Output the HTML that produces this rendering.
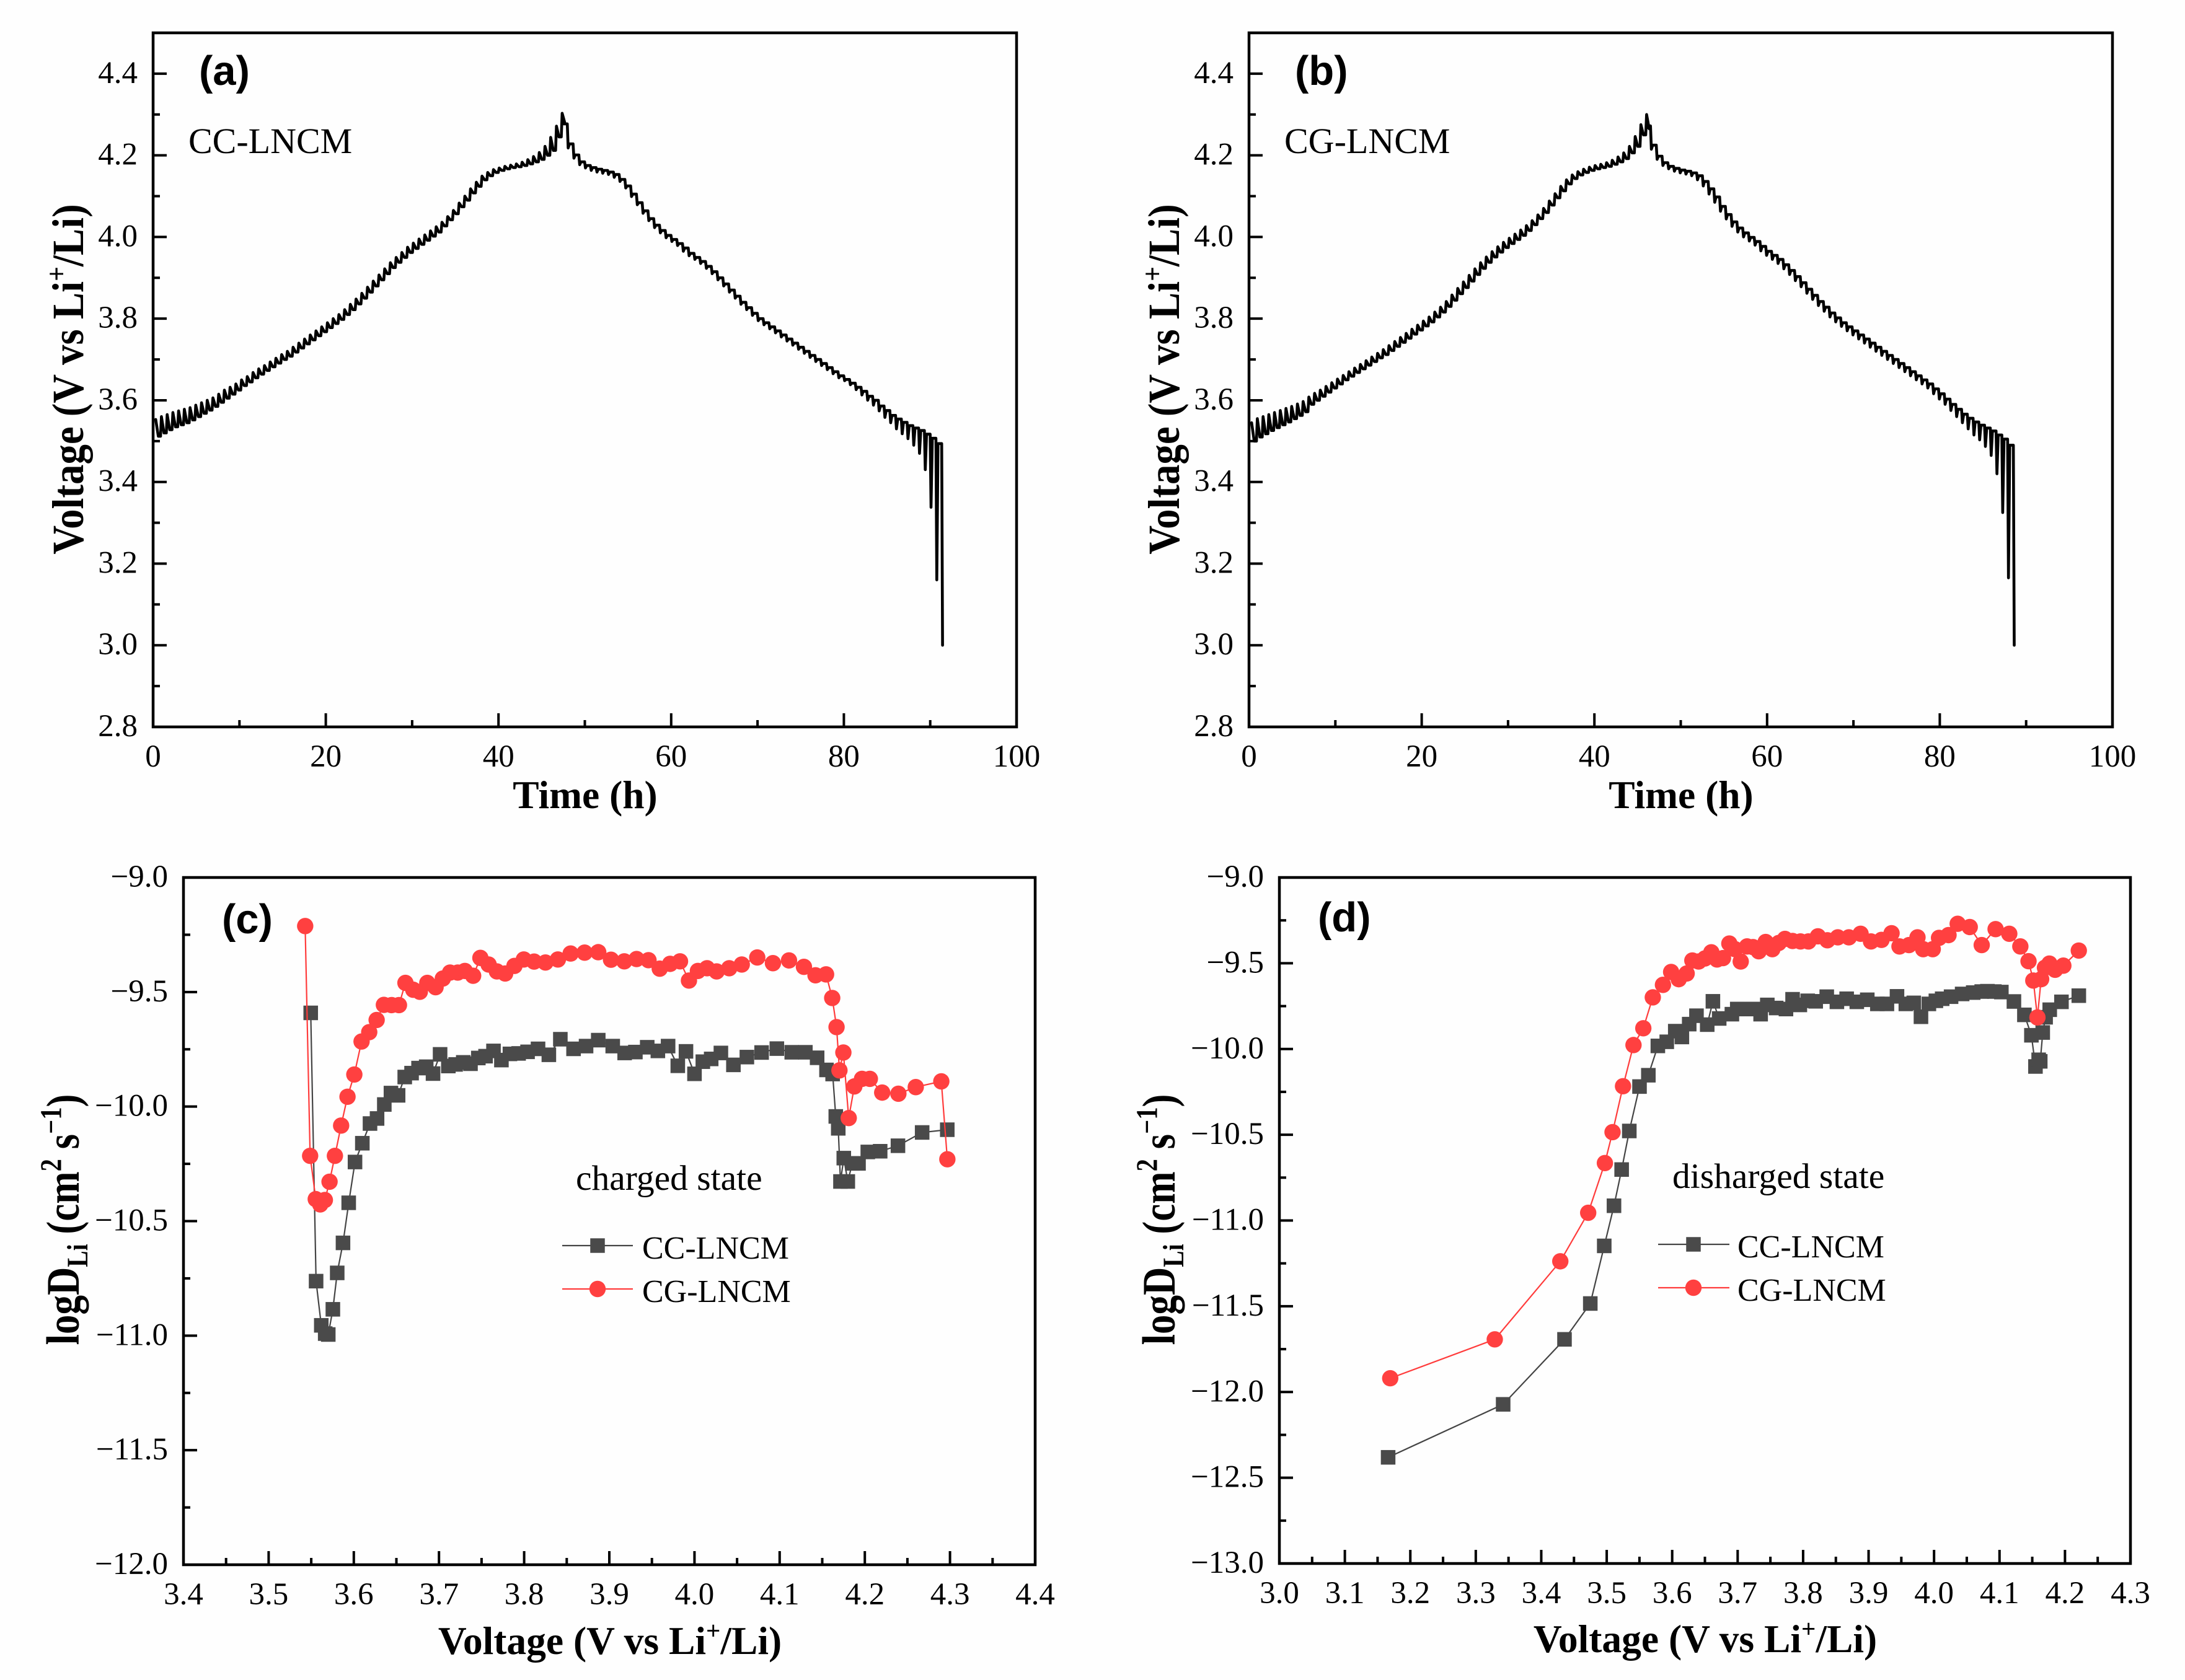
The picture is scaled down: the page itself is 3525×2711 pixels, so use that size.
<!DOCTYPE html>
<html lang="en">
<head>
<meta charset="utf-8">
<title>Voltage and diffusion coefficient panels</title>
<style>
html,body{margin:0;padding:0;background:#fefefe;}
svg{display:block;}
text{font-family:"Liberation Serif",serif;fill:#000;}
.tick{font-size:51px;}
.title{font-size:63.5px;font-weight:bold;}
.tag{font-family:"Liberation Sans",sans-serif;font-size:67px;font-weight:bold;}
.note{font-size:58px;}
.legend{font-size:52px;}
</style>
</head>
<body>
<svg xmlns="http://www.w3.org/2000/svg" width="3525" height="2711" viewBox="0 0 3525 2711">
  <rect x="0" y="0" width="3525" height="2711" fill="#fefefe"/>

  <g id="panel-a">
    <text class="tag" x="321" y="137">(a)</text>
    <text class="note" x="304" y="247">CC-LNCM</text>
    <text class="title" x="944" y="1304" text-anchor="middle">Time (h)</text>
    <text class="title" transform="translate(134 612) rotate(-90) scale(1.02,1.14)" text-anchor="middle">Voltage (V vs Li<tspan font-size="41" dy="-24">+</tspan><tspan dy="24">/Li)</tspan></text>
  </g>

  <g id="panel-b">
    <text class="tag" x="2089" y="137">(b)</text>
    <text class="note" x="2072" y="247">CG-LNCM</text>
    <text class="title" x="2712" y="1304" text-anchor="middle">Time (h)</text>
    <text class="title" transform="translate(1902 612) rotate(-90) scale(1.02,1.14)" text-anchor="middle">Voltage (V vs Li<tspan font-size="41" dy="-24">+</tspan><tspan dy="24">/Li)</tspan></text>
  </g>

  <g id="panel-c">
    <text class="tag" x="358" y="1506">(c)</text>
    <text class="note" x="929" y="1920" style="font-size:57.5px">charged state</text>
    <text class="title" x="984" y="2669" text-anchor="middle">Voltage (V vs Li<tspan font-size="41" dy="-24">+</tspan><tspan dy="24">/Li)</tspan></text>
    <text class="title" transform="translate(127 1968) rotate(-90) scale(0.99,1.18)" text-anchor="middle">logD<tspan font-size="40" dy="12">Li</tspan><tspan dy="-12"> (cm</tspan><tspan font-size="41" dy="-24">2</tspan><tspan dy="24"> s</tspan><tspan font-size="41" dy="-24">−1</tspan><tspan dy="24">)</tspan></text>
  </g>

  <g id="panel-d">
    <text class="tag" x="2126" y="1503">(d)</text>
    <text class="note" x="2698" y="1917" style="font-size:57.5px">disharged state</text>
    <text class="title" x="2751" y="2666" text-anchor="middle">Voltage (V vs Li<tspan font-size="41" dy="-24">+</tspan><tspan dy="24">/Li)</tspan></text>
    <text class="title" transform="translate(1895 1968) rotate(-90) scale(0.99,1.18)" text-anchor="middle">logD<tspan font-size="40" dy="12">Li</tspan><tspan dy="-12"> (cm</tspan><tspan font-size="41" dy="-24">2</tspan><tspan dy="24"> s</tspan><tspan font-size="41" dy="-24">−1</tspan><tspan dy="24">)</tspan></text>
  </g>
</svg>

<script>
// ---------- Panel (a) / (b) time axis ----------
const timeMajorTicks = [0, 20, 40, 60, 80, 100];
const timeMinorTicks = [10, 30, 50, 70, 90];
const timeTickLabels = ['0', '20', '40', '60', '80', '100'];
const voltageMajorTicks = [2.8, 3.0, 3.2, 3.4, 3.6, 3.8, 4.0, 4.2, 4.4];
const voltageMinorTicks = [2.9, 3.1, 3.3, 3.5, 3.7, 3.9, 4.1, 4.3];
const voltageTickLabels = ['2.8', '3.0', '3.2', '3.4', '3.6', '3.8', '4.0', '4.2', '4.4'];

// ---------- Panel (a): CC-LNCM titration curve, per-pulse voltages ----------
const chargeStartA = 0.3;
const chargeStepA = 0.663;
const dischargeStartA = 48.07;
const dischargeStepA = 0.667;
const chargePeakA = [3.553,3.56,3.565,3.57,3.574,3.578,3.582,3.588,3.594,3.60,3.606,3.615,3.625,3.632,3.64,3.65,3.658,3.668,3.677,3.685,3.694,3.703,3.712,3.72,3.73,3.74,3.75,3.76,3.77,3.78,3.79,3.80,3.81,3.822,3.835,3.848,3.862,3.877,3.892,3.907,3.922,3.937,3.95,3.962,3.975,3.985,3.995,4.005,4.015,4.025,4.036,4.05,4.065,4.083,4.10,4.118,4.134,4.149,4.158,4.165,4.169,4.173,4.176,4.179,4.183,4.1895,4.197,4.207,4.222,4.244,4.2715,4.303];
const chargeRestA = [3.512,3.52,3.528,3.535,3.54,3.545,3.552,3.56,3.568,3.576,3.585,3.595,3.605,3.615,3.625,3.636,3.645,3.655,3.664,3.673,3.682,3.691,3.70,3.708,3.718,3.728,3.738,3.748,3.758,3.768,3.778,3.788,3.798,3.81,3.822,3.836,3.85,3.865,3.88,3.895,3.91,3.925,3.938,3.95,3.962,3.972,3.982,3.992,4.002,4.012,4.027,4.042,4.057,4.074,4.09,4.108,4.124,4.14,4.15,4.158,4.163,4.167,4.17,4.172,4.175,4.179,4.184,4.19,4.20,4.212,4.245,4.28];
const dischargeTopA = [4.277,4.228,4.201,4.184,4.175,4.17,4.166,4.163,4.159,4.153,4.141,4.125,4.105,4.084,4.064,4.045,4.029,4.016,4.004,3.994,3.984,3.973,3.96,3.95,3.94,3.928,3.915,3.90,3.885,3.87,3.855,3.84,3.827,3.813,3.80,3.79,3.78,3.77,3.76,3.75,3.74,3.73,3.72,3.71,3.70,3.69,3.68,3.67,3.66,3.651,3.642,3.632,3.622,3.61,3.60,3.586,3.575,3.563,3.554,3.546,3.538,3.532,3.526,3.517,3.507,3.494];
const dischargeDipA = [4.218,4.193,4.177,4.169,4.163,4.159,4.156,4.153,4.146,4.136,4.12,4.099,4.079,4.058,4.04,4.023,4.01,3.998,3.989,3.979,3.965,3.954,3.945,3.935,3.923,3.91,3.895,3.88,3.865,3.85,3.835,3.822,3.808,3.795,3.785,3.775,3.765,3.755,3.745,3.735,3.725,3.715,3.705,3.695,3.685,3.675,3.665,3.655,3.648,3.638,3.626,3.613,3.60,3.588,3.574,3.558,3.545,3.53,3.518,3.506,3.49,3.47,3.43,3.338,3.16,3.0];

// ---------- Panel (b): CG-LNCM titration curve, per-pulse voltages ----------
const chargeStartB = 0.3;
const chargeStepB = 0.663;
const dischargeStartB = 46.6;
const dischargeStepB = 0.667;
const chargePeakB = [3.545,3.555,3.56,3.565,3.57,3.575,3.58,3.585,3.591,3.597,3.608,3.617,3.625,3.634,3.643,3.652,3.661,3.67,3.679,3.688,3.697,3.706,3.715,3.724,3.734,3.744,3.754,3.764,3.774,3.784,3.794,3.804,3.816,3.828,3.842,3.858,3.874,3.89,3.906,3.922,3.937,3.951,3.964,3.976,3.987,3.997,4.007,4.017,4.028,4.04,4.054,4.07,4.088,4.106,4.124,4.14,4.152,4.16,4.166,4.171,4.175,4.178,4.182,4.188,4.196,4.206,4.222,4.246,4.275,4.30];
const chargeRestB = [3.50,3.51,3.518,3.526,3.533,3.54,3.547,3.555,3.563,3.572,3.59,3.6,3.61,3.62,3.63,3.64,3.65,3.659,3.668,3.677,3.686,3.695,3.704,3.712,3.722,3.732,3.742,3.752,3.762,3.772,3.782,3.792,3.804,3.816,3.83,3.845,3.861,3.876,3.892,3.908,3.923,3.938,3.951,3.963,3.974,3.984,3.994,4.004,4.016,4.03,4.045,4.06,4.078,4.096,4.113,4.13,4.143,4.152,4.158,4.163,4.167,4.17,4.173,4.178,4.184,4.192,4.206,4.222,4.25,4.265];
const dischargeTopB = [4.272,4.225,4.198,4.182,4.173,4.168,4.164,4.161,4.157,4.15,4.136,4.118,4.098,4.075,4.055,4.037,4.022,4.01,3.999,3.989,3.977,3.965,3.955,3.945,3.932,3.918,3.903,3.888,3.872,3.857,3.842,3.828,3.814,3.802,3.79,3.78,3.77,3.76,3.75,3.74,3.73,3.72,3.71,3.70,3.69,3.68,3.67,3.66,3.65,3.64,3.628,3.616,3.603,3.59,3.578,3.566,3.556,3.547,3.539,3.532,3.525,3.515,3.505,3.49];
const dischargeDipB = [4.215,4.19,4.175,4.167,4.161,4.157,4.154,4.15,4.14,4.125,4.105,4.085,4.063,4.044,4.026,4.012,4.0,3.99,3.98,3.966,3.955,3.945,3.935,3.922,3.908,3.893,3.878,3.862,3.847,3.832,3.818,3.804,3.792,3.781,3.77,3.76,3.75,3.74,3.73,3.72,3.71,3.70,3.69,3.68,3.67,3.66,3.65,3.64,3.63,3.616,3.603,3.59,3.575,3.56,3.545,3.53,3.515,3.503,3.487,3.465,3.42,3.325,3.165,3.0];

// ---------- Panel (c): charged state ----------
const xMajorTicksC = [3.4, 3.5, 3.6, 3.7, 3.8, 3.9, 4.0, 4.1, 4.2, 4.3, 4.4];
const xMinorTicksC = [3.45, 3.55, 3.65, 3.75, 3.85, 3.95, 4.05, 4.15, 4.25, 4.35];
const xTickLabelsC = ['3.4', '3.5', '3.6', '3.7', '3.8', '3.9', '4.0', '4.1', '4.2', '4.3', '4.4'];
const yMajorTicksC = [-12, -11.5, -11, -10.5, -10, -9.5, -9];
const yMinorTicksC = [-11.75, -11.25, -10.75, -10.25, -9.75, -9.25];
const yTickLabelsC = ['−12.0', '−11.5', '−11.0', '−10.5', '−10.0', '−9.5', '−9.0'];

const voltageCcC = [3.5494,3.5557,3.5618,3.5664,3.570,3.5754,3.5805,3.5873,3.594,3.6014,3.610,3.619,3.6273,3.6358,3.6436,3.652,3.6598,3.6678,3.676,3.685,3.693,3.7013,3.711,3.7195,3.7285,3.737,3.7462,3.7547,3.764,3.7733,3.7833,3.7935,3.804,3.8163,3.829,3.8425,3.858,3.8727,3.887,3.904,3.918,3.9306,3.9445,3.957,3.969,3.9804,3.990,4.00,4.0098,4.0196,4.031,4.0457,4.0615,4.0788,4.0967,4.1142,4.1302,4.144,4.155,4.1622,4.1659,4.1688,4.1714,4.1753,4.18,4.1853,4.1926,4.2035,4.218,4.2389,4.2673,4.2968];
const logDCcC = [-9.591,-10.762,-10.955,-10.991,-10.995,-10.885,-10.726,-10.595,-10.42,-10.242,-10.16,-10.074,-10.052,-9.991,-9.941,-9.951,-9.871,-9.854,-9.832,-9.826,-9.856,-9.772,-9.823,-9.816,-9.807,-9.813,-9.788,-9.78,-9.757,-9.797,-9.77,-9.768,-9.761,-9.748,-9.774,-9.706,-9.748,-9.736,-9.71,-9.736,-9.766,-9.762,-9.741,-9.757,-9.736,-9.822,-9.759,-9.857,-9.804,-9.792,-9.766,-9.818,-9.784,-9.764,-9.747,-9.763,-9.763,-9.787,-9.84,-9.858,-10.043,-10.095,-10.327,-10.225,-10.327,-10.248,-10.248,-10.198,-10.195,-10.171,-10.113,-10.101];
const voltageCgC = [3.5429,3.5487,3.5553,3.5606,3.566,3.5715,3.5778,3.5851,3.5926,3.6006,3.6091,3.6181,3.6268,3.6353,3.6443,3.653,3.6606,3.6698,3.6775,3.6863,3.696,3.7045,3.713,3.722,3.7304,3.7401,3.7486,3.7583,3.768,3.7777,3.7886,3.7996,3.8117,3.825,3.8396,3.8546,3.871,3.887,3.902,3.9176,3.932,3.946,3.9592,3.9714,3.983,3.9935,4.004,4.0147,4.026,4.0408,4.0555,4.0737,4.0921,4.111,4.1285,4.1421,4.1545,4.1617,4.1668,4.1702,4.1748,4.1811,4.1877,4.1967,4.2059,4.2204,4.2394,4.2598,4.2898,4.2969];
const logDCgC = [-9.212,-10.215,-10.404,-10.427,-10.408,-10.328,-10.215,-10.083,-9.957,-9.86,-9.716,-9.675,-9.622,-9.556,-9.557,-9.557,-9.46,-9.49,-9.499,-9.46,-9.479,-9.441,-9.415,-9.415,-9.408,-9.429,-9.351,-9.38,-9.41,-9.419,-9.386,-9.358,-9.367,-9.371,-9.358,-9.332,-9.328,-9.326,-9.359,-9.366,-9.356,-9.361,-9.398,-9.377,-9.366,-9.45,-9.408,-9.396,-9.41,-9.396,-9.38,-9.349,-9.374,-9.362,-9.39,-9.427,-9.423,-9.526,-9.653,-9.842,-9.764,-10.05,-9.912,-9.879,-9.879,-9.939,-9.944,-9.915,-9.89,-10.23];

// ---------- Panel (d): discharged state ----------
const xMajorTicksD = [3.0, 3.1, 3.2, 3.3, 3.4, 3.5, 3.6, 3.7, 3.8, 3.9, 4.0, 4.1, 4.2, 4.3];
const xMinorTicksD = [3.05, 3.15, 3.25, 3.35, 3.45, 3.55, 3.65, 3.75, 3.85, 3.95, 4.05, 4.15, 4.25];
const xTickLabelsD = ['3.0', '3.1', '3.2', '3.3', '3.4', '3.5', '3.6', '3.7', '3.8', '3.9', '4.0', '4.1', '4.2', '4.3'];
const yMajorTicksD = [-13, -12.5, -12, -11.5, -11, -10.5, -10, -9.5, -9];
const yMinorTicksD = [-12.75, -12.25, -11.75, -11.25, -10.75, -10.25, -9.75, -9.25];
const yTickLabelsD = ['−13.0', '−12.5', '−12.0', '−11.5', '−11.0', '−10.5', '−10.0', '−9.5', '−9.0'];

const voltageCcD = [3.1661,3.3418,3.4355,3.4749,3.4962,3.5111,3.5228,3.5345,3.5501,3.5636,3.5781,3.5917,3.6047,3.6148,3.626,3.6371,3.6535,3.6622,3.6718,3.6912,3.6994,3.7105,3.7235,3.7351,3.7453,3.7588,3.7738,3.7839,3.795,3.807,3.8192,3.8361,3.8516,3.8665,3.882,3.898,3.9134,3.928,3.9434,3.9569,3.969,3.98,3.9921,4.0028,4.0124,4.026,4.0429,4.0598,4.0728,4.0815,4.0921,4.1028,4.122,4.138,4.1487,4.1549,4.1598,4.1622,4.166,4.1704,4.1767,4.1946,4.2211];
const logDCcD = [-12.381,-12.072,-11.693,-11.484,-11.148,-10.914,-10.703,-10.478,-10.219,-10.153,-9.982,-9.958,-9.896,-9.93,-9.855,-9.806,-9.858,-9.722,-9.822,-9.797,-9.767,-9.767,-9.767,-9.797,-9.743,-9.761,-9.767,-9.71,-9.743,-9.719,-9.722,-9.695,-9.725,-9.707,-9.725,-9.713,-9.737,-9.737,-9.693,-9.737,-9.731,-9.812,-9.737,-9.719,-9.707,-9.695,-9.679,-9.671,-9.665,-9.663,-9.665,-9.668,-9.723,-9.801,-9.92,-10.102,-10.063,-10.072,-9.904,-9.815,-9.771,-9.725,-9.689];
const voltageCgD = [3.1693,3.329,3.4291,3.4717,3.4972,3.5089,3.5249,3.5409,3.5559,3.5704,3.5859,3.5984,3.61,3.6221,3.6308,3.6404,3.65,3.6598,3.6685,3.6776,3.6873,3.696,3.7047,3.7144,3.7235,3.7322,3.7428,3.753,3.7627,3.7723,3.7839,3.796,3.8081,3.8226,3.8371,3.853,3.8699,3.8878,3.9037,3.9197,3.9351,3.9472,3.9617,3.9747,3.9834,3.998,4.0076,4.0221,4.0361,4.0545,4.0728,4.094,4.1149,4.1318,4.1443,4.1516,4.1579,4.1636,4.1694,4.1762,4.1849,4.1975,4.2211];
const logDCgD = [-11.92,-11.693,-11.238,-10.955,-10.665,-10.485,-10.217,-9.977,-9.879,-9.699,-9.626,-9.551,-9.593,-9.56,-9.484,-9.49,-9.472,-9.436,-9.478,-9.47,-9.385,-9.418,-9.49,-9.402,-9.406,-9.43,-9.376,-9.418,-9.382,-9.358,-9.37,-9.373,-9.373,-9.343,-9.366,-9.349,-9.349,-9.328,-9.373,-9.364,-9.325,-9.402,-9.394,-9.349,-9.418,-9.418,-9.352,-9.336,-9.27,-9.289,-9.394,-9.301,-9.328,-9.402,-9.488,-9.601,-9.816,-9.593,-9.526,-9.502,-9.538,-9.514,-9.426];

const SVG_NS = 'http://www.w3.org/2000/svg';

function linearAxis(d0, d1, r0, r1) {
  return function (v) { return r0 + (v - d0) * (r1 - r0) / (d1 - d0); };
}

function drawAxes(group, box, xAxis, yAxis, xMajor, xMinor, xLabels, yMajor, yMinor, yLabels) {
  const frame = document.createElementNS(SVG_NS, 'rect');
  
  
  frame.setAttribute('x', box.left);
  frame.setAttribute('y', box.top);
  frame.setAttribute('width', box.right - box.left);
  frame.setAttribute('height', box.bottom - box.top);
  frame.setAttribute('fill', 'none');
  frame.setAttribute('stroke', '#000');
  frame.setAttribute('stroke-width', '4.5');
  group.appendChild(frame);

  xMajor.concat(xMinor).forEach(function (v, i) {
    const isMajor = i < xMajor.length;
    const tick = document.createElementNS(SVG_NS, 'line');
    
    
    tick.setAttribute('x1', xAxis(v));
    tick.setAttribute('x2', xAxis(v));
    tick.setAttribute('y1', box.bottom);
    tick.setAttribute('y2', box.bottom - (isMajor ? 22 : 11));
    tick.setAttribute('stroke', '#000');
    tick.setAttribute('stroke-width', '4');
    group.appendChild(tick);
    if (isMajor) {
      const label = document.createElementNS(SVG_NS, 'text');
      
      
      label.setAttribute('class', 'tick');
      label.setAttribute('x', xAxis(v));
      label.setAttribute('y', box.bottom + 64);
      label.setAttribute('text-anchor', 'middle');
      label.textContent = xLabels[i];
      group.appendChild(label);
    }
  });

  yMajor.concat(yMinor).forEach(function (v, i) {
    const isMajor = i < yMajor.length;
    const tick = document.createElementNS(SVG_NS, 'line');
    
    
    tick.setAttribute('x1', box.left);
    tick.setAttribute('x2', box.left + (isMajor ? 22 : 11));
    tick.setAttribute('y1', yAxis(v));
    tick.setAttribute('y2', yAxis(v));
    tick.setAttribute('stroke', '#000');
    tick.setAttribute('stroke-width', '4');
    group.appendChild(tick);
    if (isMajor) {
      const label = document.createElementNS(SVG_NS, 'text');
      
      
      label.setAttribute('class', 'tick');
      label.setAttribute('x', box.left - 25);
      label.setAttribute('y', yAxis(v) + 15);
      label.setAttribute('text-anchor', 'end');
      label.textContent = yLabels[i];
      group.appendChild(label);
    }
  });
}

function drawTitrationCurve(group, xAxis, yAxis, chargeStart, chargeStep, dischargeStart, dischargeStep, rest, peak, top, dip) {
  const pts = [];
  for (let i = 0; i < peak.length; i++) {
    const t = chargeStart + i * chargeStep;
    if (i > 0) pts.push([t - 0.1, rest[i - 1]]);
    pts.push([t, peak[i]]);
    pts.push([t + 0.3, rest[i]]);
  }
  for (let j = 0; j < dip.length; j++) {
    const t = dischargeStart + j * dischargeStep;
    pts.push([t - dischargeStep + 0.15, top[j]]);
    pts.push([t - 0.1, top[j]]);
    pts.push([t, dip[j]]);
  }
  let d = '';
  pts.forEach(function (p, k) {
    d += (k ? 'L' : 'M') + xAxis(p[0]).toFixed(1) + ' ' + yAxis(p[1]).toFixed(1);
  });
  const curve = document.createElementNS(SVG_NS, 'path');
  
  
  curve.setAttribute('d', d);
  curve.setAttribute('fill', 'none');
  curve.setAttribute('stroke', '#000');
  curve.setAttribute('stroke-width', '4.6');
  curve.setAttribute('stroke-linejoin', 'round');
  curve.setAttribute('stroke-linecap', 'round');
  group.appendChild(curve);
}

function drawSquareSeries(group, xAxis, yAxis, xs, ys) {
  const line = document.createElementNS(SVG_NS, 'polyline');
  
  
  line.setAttribute('points', xs.map(function (v, i) { return xAxis(v).toFixed(1) + ',' + yAxis(ys[i]).toFixed(1); }).join(' '));
  line.setAttribute('fill', 'none');
  line.setAttribute('stroke', '#444444');
  line.setAttribute('stroke-width', '2.2');
  group.appendChild(line);
  xs.forEach(function (v, i) {
    const marker = document.createElementNS(SVG_NS, 'rect');
    
    
    marker.setAttribute('x', xAxis(v) - 11.75);
    marker.setAttribute('y', yAxis(ys[i]) - 11.75);
    marker.setAttribute('width', '23.5');
    marker.setAttribute('height', '23.5');
    marker.setAttribute('fill', '#4a4a4a');
    group.appendChild(marker);
  });
}

function drawCircleSeries(group, xAxis, yAxis, xs, ys) {
  const line = document.createElementNS(SVG_NS, 'polyline');
  
  
  line.setAttribute('points', xs.map(function (v, i) { return xAxis(v).toFixed(1) + ',' + yAxis(ys[i]).toFixed(1); }).join(' '));
  line.setAttribute('fill', 'none');
  line.setAttribute('stroke', '#ff3b3b');
  line.setAttribute('stroke-width', '2.2');
  group.appendChild(line);
  xs.forEach(function (v, i) {
    const marker = document.createElementNS(SVG_NS, 'circle');
    
    
    marker.setAttribute('cx', xAxis(v));
    marker.setAttribute('cy', yAxis(ys[i]));
    marker.setAttribute('r', '13.2');
    marker.setAttribute('fill', '#ff4040');
    group.appendChild(marker);
  });
}

function drawLegend(group, x1, x2, markerX, textX, yCc, yCg) {
  const ccLine = document.createElementNS(SVG_NS, 'line');
  
  
  ccLine.setAttribute('x1', x1);
  ccLine.setAttribute('x2', x2);
  ccLine.setAttribute('y1', yCc);
  ccLine.setAttribute('y2', yCc);
  ccLine.setAttribute('stroke', '#444444');
  ccLine.setAttribute('stroke-width', '2.2');
  group.appendChild(ccLine);

  const ccMarker = document.createElementNS(SVG_NS, 'rect');
  
  
  ccMarker.setAttribute('x', markerX - 11.75);
  ccMarker.setAttribute('y', yCc - 11.75);
  ccMarker.setAttribute('width', '23.5');
  ccMarker.setAttribute('height', '23.5');
  ccMarker.setAttribute('fill', '#4a4a4a');
  group.appendChild(ccMarker);

  const ccText = document.createElementNS(SVG_NS, 'text');
  
  
  ccText.setAttribute('class', 'legend');
  ccText.setAttribute('x', textX);
  ccText.setAttribute('y', yCc + 21);
  ccText.textContent = 'CC-LNCM';
  group.appendChild(ccText);

  const cgLine = document.createElementNS(SVG_NS, 'line');
  
  
  cgLine.setAttribute('x1', x1);
  cgLine.setAttribute('x2', x2);
  cgLine.setAttribute('y1', yCg);
  cgLine.setAttribute('y2', yCg);
  cgLine.setAttribute('stroke', '#ff3b3b');
  cgLine.setAttribute('stroke-width', '2.2');
  group.appendChild(cgLine);

  const cgMarker = document.createElementNS(SVG_NS, 'circle');
  
  
  cgMarker.setAttribute('cx', markerX);
  cgMarker.setAttribute('cy', yCg);
  cgMarker.setAttribute('r', '13.2');
  cgMarker.setAttribute('fill', '#ff4040');
  group.appendChild(cgMarker);

  const cgText = document.createElementNS(SVG_NS, 'text');
  
  
  cgText.setAttribute('class', 'legend');
  cgText.setAttribute('x', textX);
  cgText.setAttribute('y', yCg + 21);
  cgText.textContent = 'CG-LNCM';
  group.appendChild(cgText);
}

// Panel (a)
(function () {
  const box = { left: 247, right: 1640, top: 53, bottom: 1173 };
  const x = linearAxis(0, 100, box.left, box.right);
  const y = linearAxis(2.8, 4.5, box.bottom, box.top);
  const g = document.getElementById('panel-a');
  drawAxes(g, box, x, y, timeMajorTicks, timeMinorTicks, timeTickLabels, voltageMajorTicks, voltageMinorTicks, voltageTickLabels);
  drawTitrationCurve(g, x, y, chargeStartA, chargeStepA, dischargeStartA, dischargeStepA, chargeRestA, chargePeakA, dischargeTopA, dischargeDipA);
})();

// Panel (b)
(function () {
  const box = { left: 2015, right: 3408, top: 53, bottom: 1173 };
  const x = linearAxis(0, 100, box.left, box.right);
  const y = linearAxis(2.8, 4.5, box.bottom, box.top);
  const g = document.getElementById('panel-b');
  drawAxes(g, box, x, y, timeMajorTicks, timeMinorTicks, timeTickLabels, voltageMajorTicks, voltageMinorTicks, voltageTickLabels);
  drawTitrationCurve(g, x, y, chargeStartB, chargeStepB, dischargeStartB, dischargeStepB, chargeRestB, chargePeakB, dischargeTopB, dischargeDipB);
})();

// Panel (c)
(function () {
  const box = { left: 296, right: 1670, top: 1416, bottom: 2525 };
  const x = linearAxis(3.4, 4.4, box.left, box.right);
  const y = linearAxis(-12, -9, box.bottom, box.top);
  const g = document.getElementById('panel-c');
  drawAxes(g, box, x, y, xMajorTicksC, xMinorTicksC, xTickLabelsC, yMajorTicksC, yMinorTicksC, yTickLabelsC);
  drawSquareSeries(g, x, y, voltageCcC, logDCcC);
  drawCircleSeries(g, x, y, voltageCgC, logDCgC);
  drawLegend(g, 907, 1021, 964, 1036, 2010, 2080);
})();

// Panel (d)
(function () {
  const box = { left: 2064, right: 3437, top: 1416, bottom: 2523 };
  const x = linearAxis(3.0, 4.3, box.left, box.right);
  const y = linearAxis(-13, -9, box.bottom, box.top);
  const g = document.getElementById('panel-d');
  drawAxes(g, box, x, y, xMajorTicksD, xMinorTicksD, xTickLabelsD, yMajorTicksD, yMinorTicksD, yTickLabelsD);
  drawSquareSeries(g, x, y, voltageCcD, logDCcD);
  drawCircleSeries(g, x, y, voltageCgD, logDCgD);
  drawLegend(g, 2675, 2790, 2732, 2803, 2008, 2078);
})();
</script>
</body>
</html>
